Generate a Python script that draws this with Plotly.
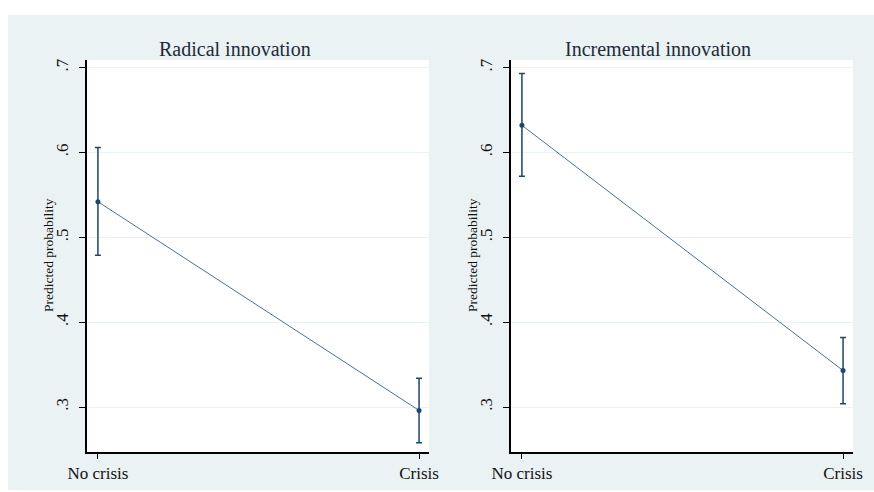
import plotly.graph_objects as go

# ---- data ----
categories = ["No crisis", "Crisis"]
cat_pos = [0, 1]
panel_titles = ["Radical innovation", "Incremental innovation"]
radical_est = [0.542, 0.296]
radical_lo = [0.479, 0.258]
radical_hi = [0.606, 0.334]
incremental_est = [0.632, 0.343]
incremental_lo = [0.572, 0.304]
incremental_hi = [0.693, 0.382]
y_ticks = [0.3, 0.4, 0.5, 0.6, 0.7]
y_ticklabels = [".3", ".4", ".5", ".6", ".7"]
y_title = "Predicted probability"

W, H = 874, 492
BG = "#eaf2f3"
NAVY = "#1a476f"
LINE = "#4a7196"
FONT = "Liberation Serif"

fig = go.Figure()

panels = [
    (radical_est, radical_lo, radical_hi, "x", "y"),
    (incremental_est, incremental_lo, incremental_hi, "x2", "y2"),
]
for est, lo, hi, xa, ya in panels:
    fig.add_trace(go.Scatter(
        x=cat_pos, y=est, xaxis=xa, yaxis=ya, mode="lines+markers",
        line=dict(color=LINE, width=1),
        marker=dict(color=NAVY, size=5),
        error_y=dict(type="data", symmetric=False,
                     array=[h - e for h, e in zip(hi, est)],
                     arrayminus=[e - l for e, l in zip(est, lo)],
                     color=NAVY, thickness=1.5, width=3),
        showlegend=False, hoverinfo="skip"))

def px_x(p):
    return p / W

def px_y(p):
    return 1 - p / H

ydom = [px_y(452), px_y(60)]
xdoms = [[px_x(87), px_x(429)], [px_x(511), px_x(853)]]

common_x = dict(range=[-0.034, 1.031], tickvals=cat_pos, ticktext=categories,
                showgrid=False, zeroline=False, showline=True, linecolor="black",
                linewidth=1.5, ticks="outside", ticklen=5, tickcolor="black",
                tickwidth=1, tickfont=dict(family=FONT, size=17, color="#111"),
                automargin=False, fixedrange=True)
common_y = dict(range=[0.247, 0.709], tickvals=y_ticks, ticktext=y_ticklabels,
                showgrid=True, gridcolor=BG, gridwidth=1, zeroline=False,
                showline=True, linecolor="black", linewidth=1.5,
                ticks="outside", ticklen=6, tickcolor="black", tickwidth=1,
                tickangle=-90, ticklabelstandoff=4,
                tickfont=dict(family=FONT, size=17, color="#111"),
                automargin=False, fixedrange=True)

fig.update_layout(
    width=W, height=H, margin=dict(l=0, r=0, t=0, b=0, pad=0),
    paper_bgcolor=BG, plot_bgcolor="white",
    xaxis=dict(domain=xdoms[0], anchor="y", **common_x),
    yaxis=dict(domain=ydom, anchor="x", **common_y),
    xaxis2=dict(domain=xdoms[1], anchor="y2", **common_x),
    yaxis2=dict(domain=ydom, anchor="x2", **common_y),
    shapes=[
        dict(type="rect", xref="paper", yref="paper", x0=0, x1=1,
             y0=px_y(15), y1=1, fillcolor="white", line=dict(width=0), layer="below"),
        dict(type="rect", xref="paper", yref="paper", x0=0, x1=px_x(8),
             y0=0, y1=1, fillcolor="white", line=dict(width=0), layer="below"),
        dict(type="rect", xref="paper", yref="paper", x0=0, x1=1,
             y0=0, y1=px_y(490), fillcolor="white", line=dict(width=0), layer="below"),
    ],
)

title_x = [234.5, 658]
ylab_x = [48, 472]
for i in range(2):
    fig.add_annotation(x=px_x(title_x[i]), y=px_y(49), xref="paper", yref="paper",
                       text=panel_titles[i], showarrow=False,
                       xanchor="center", yanchor="middle",
                       font=dict(family=FONT, size=20, color="#1f2a3a"))
    fig.add_annotation(x=px_x(ylab_x[i]), y=px_y(255), xref="paper", yref="paper",
                       text=y_title, showarrow=False, textangle=-90,
                       xanchor="center", yanchor="middle",
                       font=dict(family=FONT, size=13.5, color="#111"))

fig.write_html("out.html", config={"displayModeBar": False},
               post_script="document.body.style.margin='0';document.body.style.padding='0';")
